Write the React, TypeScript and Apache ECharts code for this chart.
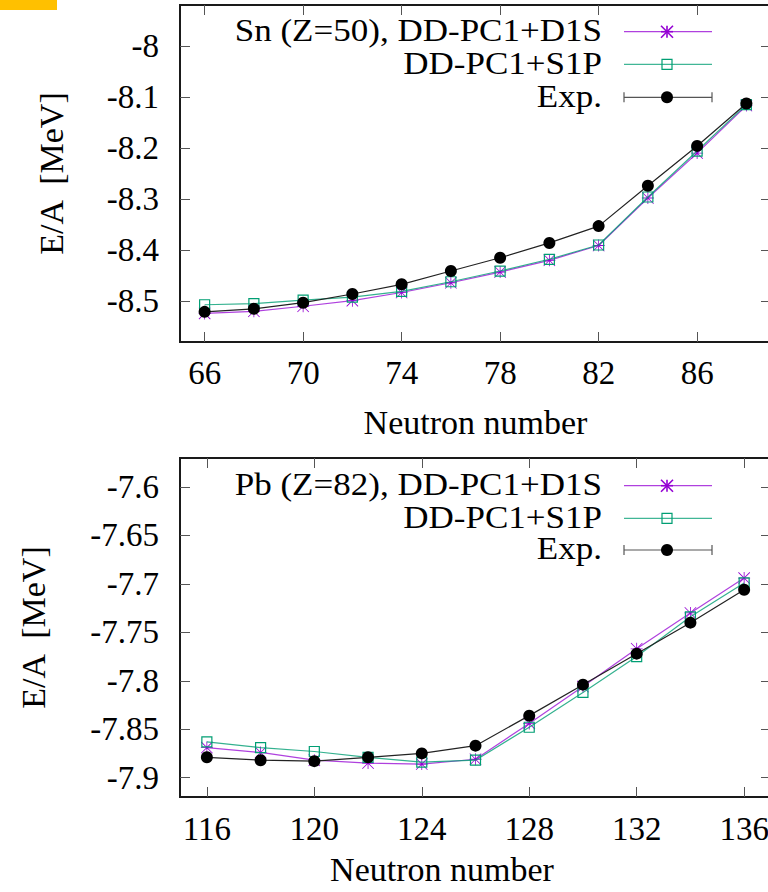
import React, { useEffect, useRef } from "react";
import * as echarts from "echarts";

// ---- Data ----
const snN = [66, 68, 70, 72, 74, 76, 78, 80, 82, 84, 86, 88];
const snD1S = [-8.524, -8.520, -8.510, -8.499, -8.483, -8.464, -8.443, -8.420, -8.391, -8.298, -8.210, -8.117];
const snS1P = [-8.507, -8.505, -8.498, -8.492, -8.481, -8.462, -8.441, -8.418, -8.390, -8.296, -8.206, -8.115];
const snExp = [-8.521, -8.515, -8.503, -8.486, -8.467, -8.441, -8.415, -8.386, -8.353, -8.274, -8.196, -8.113];

const pbN = [116, 118, 120, 122, 124, 126, 128, 130, 132, 134, 136];
const pbD1S = [-7.869, -7.874, -7.882, -7.885, -7.886, -7.881, -7.844, -7.806, -7.767, -7.730, -7.694];
const pbS1P = [-7.863, -7.869, -7.873, -7.879, -7.884, -7.882, -7.848, -7.812, -7.775, -7.734, -7.699];
const pbExp = [-7.879, -7.882, -7.883, -7.879, -7.875, -7.867, -7.836, -7.804, -7.772, -7.740, -7.706];

const snXTicks = [66, 70, 74, 78, 82, 86];
const snYTicks = [-8.5, -8.4, -8.3, -8.2, -8.1, -8];
const pbXTicks = [116, 120, 124, 128, 132, 136];
const pbYTicks = [-7.9, -7.85, -7.8, -7.75, -7.7, -7.65, -7.6];

const snLegend = ["Sn (Z=50), DD-PC1+D1S", "DD-PC1+S1P", "Exp."];
const pbLegend = ["Pb (Z=82), DD-PC1+D1S", "DD-PC1+S1P", "Exp."];
const xName = "Neutron number";
const yName = "E/A  [MeV]";

// ---- Styles ----
const PURPLE = "#9400d3";
const GREEN = "#009e73";
const BLACK = "#000000";
const FONT = "Liberation Serif";
const FS = 33;
const NFS = 34;
const LFS = 31;

const ASTERISK =
  "path://M11.2,0L12.8,0L12.8,24L11.2,24Z M0,11.2L24,11.2L24,12.8L0,12.8Z M1.13,0L24,22.87L22.87,24L0,1.13Z M22.87,0L24,1.13L1.13,24L0,22.87Z";

const fmt = (v: number) => String(parseFloat(Number(v).toFixed(2)));

function zip(xs: number[], ys: number[]) {
  return xs.map((x, i) => [x, ys[i]]);
}

function makeSeries(gi: number, xs: number[], d1s: number[], s1p: number[], exp: number[], names: string[]) {
  return [
    {
      type: "line",
      name: names[0],
      xAxisIndex: gi * 2,
      yAxisIndex: gi * 2,
      data: zip(xs, d1s),
      symbol: ASTERISK,
      symbolSize: 12,
      lineStyle: { color: PURPLE, width: 1.2, opacity: 0.75 },
      itemStyle: { color: PURPLE },
      z: 2,
    },
    {
      type: "line",
      name: names[1],
      xAxisIndex: gi * 2,
      yAxisIndex: gi * 2,
      data: zip(xs, s1p),
      symbol: "rect",
      symbolSize: 10,
      lineStyle: { color: GREEN, width: 1.2, opacity: 0.8 },
      itemStyle: { color: "rgba(0,0,0,0)", borderColor: GREEN, borderWidth: 1.2 },
      z: 3,
    },
    {
      type: "line",
      name: names[2],
      xAxisIndex: gi * 2,
      yAxisIndex: gi * 2,
      data: zip(xs, exp),
      symbol: "circle",
      symbolSize: 12,
      lineStyle: { color: "#222", width: 1.2 },
      itemStyle: { color: BLACK },
      z: 4,
    },
  ];
}

function tickStyle(values: number[]) {
  return { show: true, inside: true, length: 10, customValues: values, lineStyle: { color: "#555", width: 1 } };
}

function makeAxes(
  gi: number,
  xMin: number,
  xMax: number,
  yMin: number,
  yMax: number,
  xTicks: number[],
  yTicks: number[],
  xNameGap: number,
  yNameGap: number,
  xNameShift: number,
  xLabelMargin: number
) {
  const labelBase = { fontFamily: FONT, fontSize: FS, color: "#000" };
  const xAxes = [
    {
      gridIndex: gi,
      type: "value",
      position: "bottom",
      min: xMin,
      max: xMax,
      axisLine: { show: false },
      splitLine: { show: false },
      axisTick: tickStyle(xTicks),
      axisLabel: { ...labelBase, customValues: xTicks, margin: xLabelMargin, formatter: fmt },
      name: xName,
      nameLocation: "middle",
      nameGap: xNameGap,
      nameTextStyle: { fontFamily: FONT, fontSize: NFS, color: "#000", padding: [0, xNameShift, 0, 0] },
    },
    {
      gridIndex: gi,
      type: "value",
      position: "top",
      min: xMin,
      max: xMax,
      axisLine: { show: false },
      splitLine: { show: false },
      axisTick: tickStyle(xTicks),
      axisLabel: { show: false },
    },
  ];
  const yAxes = [
    {
      gridIndex: gi,
      type: "value",
      position: "left",
      min: yMin,
      max: yMax,
      axisLine: { show: false },
      splitLine: { show: false },
      axisTick: tickStyle(yTicks),
      axisLabel: { ...labelBase, customValues: yTicks, margin: 21, formatter: fmt },
      name: yName,
      nameLocation: "middle",
      nameGap: yNameGap,
      nameTextStyle: { fontFamily: FONT, fontSize: NFS, color: "#000" },
    },
    {
      gridIndex: gi,
      type: "value",
      position: "right",
      min: yMin,
      max: yMax,
      axisLine: { show: false },
      splitLine: { show: false },
      axisTick: tickStyle(yTicks),
      axisLabel: { show: false },
    },
  ];
  return { xAxes, yAxes };
}

function legendGraphics(names: string[], ys: number[]) {
  const textRight = 602;
  const x0 = 624;
  const x1 = 712;
  const xm = 667;
  const els: any[] = [];
  const colors = [PURPLE, GREEN, "#555"];
  names.forEach((n, i) => {
    els.push({
      type: "text",
      x: textRight,
      y: ys[i] - 1,
      scaleX: 1.13,
      style: {
        text: n,
        x: 0,
        y: 0,
        align: "right",
        textAlign: "right",
        verticalAlign: "middle",
        textVerticalAlign: "middle",
        fontFamily: FONT,
        fontSize: LFS,
        fill: "#000",
      },
      z: 100,
    });
    els.push({
      type: "line",
      shape: { x1: x0, y1: ys[i], x2: x1, y2: ys[i] },
      style: { stroke: colors[i], lineWidth: 1.2, opacity: i === 2 ? 1 : 0.75 },
      z: 100,
    });
  });
  const ay = ys[0];
  const r = 6;
  const d = 6;
  [
    [xm, ay - r, xm, ay + r],
    [xm - r, ay, xm + r, ay],
    [xm - d, ay - d, xm + d, ay + d],
    [xm - d, ay + d, xm + d, ay - d],
  ].forEach((s) =>
    els.push({
      type: "line",
      shape: { x1: s[0], y1: s[1], x2: s[2], y2: s[3] },
      style: { stroke: PURPLE, lineWidth: 1.6 },
      z: 101,
    })
  );
  els.push({
    type: "rect",
    shape: { x: xm - 5, y: ys[1] - 5, width: 10, height: 10 },
    style: { fill: "rgba(0,0,0,0)", stroke: GREEN, lineWidth: 1.2 },
    z: 101,
  });
  els.push({
    type: "line",
    shape: { x1: x0, y1: ys[2] - 5, x2: x0, y2: ys[2] + 5 },
    style: { stroke: "#555", lineWidth: 1.2 },
    z: 101,
  });
  els.push({
    type: "line",
    shape: { x1: x1, y1: ys[2] - 5, x2: x1, y2: ys[2] + 5 },
    style: { stroke: "#555", lineWidth: 1.2 },
    z: 101,
  });
  els.push({
    type: "circle",
    shape: { cx: xm, cy: ys[2], r: 6 },
    style: { fill: BLACK },
    z: 101,
  });
  return els;
}

export default function App() {
  const ref = useRef<HTMLDivElement>(null);
  useEffect(() => {
    if (!ref.current) return;
    const chart = echarts.init(ref.current, null, { renderer: "svg" });
    const top = makeAxes(0, 65, 89, -8.58, -7.92, snXTicks, snYTicks, 63, 112, 0, 14);
    const bot = makeAxes(1, 115, 137, -7.92, -7.57, pbXTicks, pbYTicks, 55, 130, 67, 15);
    const option: any = {
      animation: false,
      backgroundColor: "#fff",
      grid: [
        { left: 180, top: 5, width: 591, height: 337, show: true, borderColor: "#1a1a1a", borderWidth: 2, backgroundColor: "transparent" },
        { left: 180, top: 458, width: 591, height: 339, show: true, borderColor: "#1a1a1a", borderWidth: 2, backgroundColor: "transparent" },
      ],
      xAxis: [...top.xAxes, ...bot.xAxes],
      yAxis: [...top.yAxes, ...bot.yAxes],
      series: [
        ...makeSeries(0, snN, snD1S, snS1P, snExp, snLegend),
        ...makeSeries(1, pbN, pbD1S, pbS1P, pbExp, pbLegend),
      ],
      graphic: [
        { type: "rect", shape: { x: 0, y: 0, width: 57, height: 10 }, style: { fill: "#FFC000" }, z: 100 },
        ...legendGraphics(snLegend, [31.7, 64.3, 97.3]),
        ...legendGraphics(pbLegend, [485.7, 518.3, 550]),
      ],
    };
    chart.setOption(option);
    return () => chart.dispose();
  }, []);
  return (
    <div
      ref={ref}
      style={{ position: "fixed", left: 0, top: 0, width: 776, height: 892, background: "#fff" }}
    />
  );
}
